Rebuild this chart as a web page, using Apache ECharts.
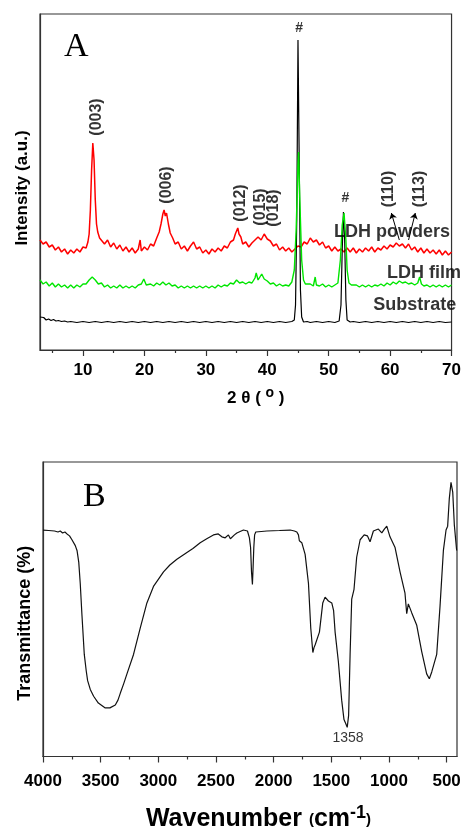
<!DOCTYPE html>
<html><head><meta charset="utf-8">
<script src="https://cdn.jsdelivr.net/npm/echarts@6/dist/echarts.min.js"></script>
<style>html,body{margin:0;padding:0;background:#fff}#c{width:464px;height:833px}</style>
</head><body><div id="c"></div>
<script>
// ---------- Panel A : XRD ----------
const xrdTicks = [10, 20, 30, 40, 50, 60, 70];
const xrdMinor = [5, 15, 25, 35, 45, 55, 65];

const powders = [[3.0,110],[3.5,106],[4.0,108],[4.5,103],[5.0,105],[5.5,100],[6.0,103],[6.5,98],[7.0,101],[7.5,96],[8.0,100],[8.5,97],[9.0,101],[9.5,98],[10.0,103],[10.5,102],[10.8,108],[11.0,116],[11.2,140],[11.4,180],[11.6,207],[11.8,190],[12.0,150],[12.2,126],[12.4,118],[12.7,112],[13.0,114],[13.5,106],[14.0,110],[14.5,103],[15.0,107],[15.5,101],[16.0,105],[16.5,99],[17.0,103],[17.5,98],[18.0,102],[18.5,97],[19.0,101],[19.3,110],[19.5,99],[20.0,103],[20.5,100],[21.0,106],[21.5,104],[22.0,112],[22.4,118],[22.7,126],[23.0,136],[23.2,140],[23.4,134],[23.6,137],[23.9,126],[24.2,117],[24.6,112],[25.0,106],[25.5,108],[26.0,101],[26.5,104],[27.0,99],[27.5,104],[28.0,108],[28.5,101],[29.0,103],[29.5,97],[30.0,100],[30.5,96],[31.0,101],[31.5,98],[32.0,102],[32.5,99],[33.0,104],[33.5,102],[34.0,108],[34.5,110],[34.8,116],[35.0,118],[35.2,122],[35.4,116],[35.7,113],[36.0,106],[36.5,108],[37.0,103],[37.5,107],[38.0,110],[38.5,113],[39.0,110],[39.5,116],[40.0,111],[40.5,109],[41.0,104],[41.5,106],[42.0,100],[42.5,103],[43.0,99],[43.5,102],[44.0,98],[44.5,101],[45.0,104],[45.5,103],[46.0,108],[46.5,106],[47.0,112],[47.5,108],[48.0,110],[48.5,105],[49.0,108],[49.5,102],[50.0,104],[50.5,99],[51.0,103],[51.5,99],[52.0,101],[52.5,98],[53.0,102],[53.5,98],[54.0,102],[54.5,97],[55.0,101],[55.5,98],[56.0,102],[56.5,99],[57.0,103],[57.5,98],[58.0,102],[58.5,100],[59.0,104],[59.5,101],[60.0,105],[60.5,103],[61.0,107],[61.5,104],[62.0,106],[62.5,102],[63.0,106],[63.5,100],[64.0,103],[64.5,98],[65.0,102],[65.5,97],[66.0,101],[66.5,97],[67.0,100],[67.5,96],[68.0,100],[68.5,95],[69.0,99],[69.5,95],[70.0,98]];

const film = [[3.0,70],[3.5,66],[4.0,68],[4.5,64],[5.0,67],[5.5,63],[6.0,66],[6.5,63],[7.0,65],[7.5,62],[8.0,65],[8.5,62],[9.0,65],[9.5,63],[10.0,66],[10.5,66],[11.0,70],[11.5,73],[12.0,70],[12.5,66],[13.0,67],[13.5,63],[14.0,65],[14.5,62],[15.0,64],[15.5,62],[16.0,65],[16.5,62],[17.0,64],[17.5,62],[18.0,64],[18.5,62],[19.0,65],[19.5,66],[19.9,71],[20.3,65],[20.5,64],[21.0,66],[21.5,64],[22.0,67],[22.5,65],[23.0,68],[23.5,65],[24.0,67],[24.5,64],[25.0,65],[25.5,62],[26.0,64],[26.5,62],[27.0,64],[27.5,62],[28.0,64],[28.5,62],[29.0,64],[29.5,62],[30.0,64],[30.5,62],[31.0,64],[31.5,62],[32.0,65],[32.5,63],[33.0,65],[33.5,64],[34.0,67],[34.5,66],[35.0,70],[35.5,67],[36.0,68],[36.5,66],[37.0,68],[37.5,67],[38.0,72],[38.2,77],[38.5,70],[38.8,73],[39.1,76],[39.5,71],[40.0,69],[40.5,66],[41.0,67],[41.5,64],[42.0,66],[42.5,64],[43.0,65],[43.5,64],[44.0,68],[44.4,80],[44.7,120],[45.0,185],[45.1,198],[45.3,150],[45.6,90],[45.9,70],[46.2,66],[46.5,64],[47.0,66],[47.5,64],[47.8,73],[48.0,65],[48.5,64],[49.0,66],[49.5,63],[50.0,65],[50.5,63],[51.0,65],[51.5,67],[51.9,90],[52.2,125],[52.5,137],[52.8,110],[53.0,80],[53.3,67],[53.7,65],[54.0,63],[54.5,65],[55.0,63],[55.5,65],[56.0,63],[56.5,65],[57.0,63],[57.5,65],[58.0,64],[58.5,66],[59.0,64],[59.5,67],[60.0,65],[60.5,68],[61.0,66],[61.5,69],[62.0,67],[62.5,68],[63.0,66],[63.5,67],[64.0,65],[64.5,67],[64.8,73],[65.1,66],[65.5,64],[66.0,65],[66.5,63],[67.0,65],[67.5,63],[68.0,65],[68.5,63],[69.0,65],[69.5,63],[70.0,65]];

const substrate = [[3.0,33],[3.3,31],[3.6,32.5],[4.0,30],[4.4,31],[4.8,29.5],[5.2,30.5],[5.6,29],[6.0,29.5],[6.5,28.5],[7.0,29],[7.5,28],[8,28.5],[9,27.5],[10,28.5],[11,27.5],[12,28.5],[13,27.5],[14,28.5],[15,27.5],[16,28.5],[17,27.5],[18,28.5],[19,27.5],[20,28.5],[21,27.5],[22,28.5],[23,27.5],[24,28.5],[25,27.5],[26,28.5],[27,27.5],[28,28.5],[29,27.5],[30,28.5],[31,27.5],[32,28.5],[33,27.5],[34,28.5],[35,27.5],[36,28.5],[37,27.5],[38,28.5],[39,27.5],[40,28.5],[41,27.5],[42,28.5],[43,27.5],[44,28.5],[44.4,30],[44.6,45],[44.8,130],[45.0,310],[45.2,190],[45.4,60],[45.6,33],[45.9,28],[46.5,28.5],[47,27.5],[48,28.5],[49,27.5],[50,28.5],[51,27.5],[51.7,29],[52.0,45],[52.2,100],[52.4,138],[52.6,110],[52.8,50],[53.0,30],[53.5,28],[54,28.5],[55,27.5],[56,28.5],[57,27.5],[58,28.5],[59,27.5],[60,28.5],[61,27.5],[62,28.5],[63,27.5],[64,28.5],[65,27.5],[66,28.5],[67,27.5],[68,28.5],[69,27.5],[70,28]];

const hklLabels = [[12.2,233,'(003)'],[23.55,165,'(006)'],[35.7,147,'(012)'],[38.9,143,'(015)'],[41.0,142,'(018)'],[59.8,161,'(110)'],[64.8,161,'(113)']];
const peakMarks = [[45.2,322,'#'],[52.7,152,'#']];
const sampleNames = [[60.3,118,'LDH powders'],[65.5,77,'LDH film'],[64.0,45,'Substrate']];
const arrowLines = [[[61.5,110],[60.2,137]],[[63.0,110],[64.1,137]]];

// ---------- Panel B : FTIR ----------
const irTicks = [4000, 3500, 3000, 2500, 2000, 1500, 1000, 500];
const irMinor = [3750, 3250, 2750, 2250, 1750, 1250, 750];
const wavenumber = [4000,3950,3900,3870,3850,3830,3810,3792,3770,3749,3720,3705,3690,3677,3662,3642,3625,3613,3590,3561,3520,3460,3420,3373,3350,3330,3300,3272,3215,3157,3099,3042,2955,2900,2839,2752,2700,2637,2580,2522,2480,2449,2420,2392,2375,2362,2340,2319,2262,2227,2210,2200,2192,2184,2178,2172,2165,2155,2059,1950,1857,1820,1799,1785,1777,1770,1756,1727,1698,1678,1660,1650,1640,1626,1603,1574,1554,1540,1525,1496,1480,1467,1439,1410,1390,1375,1362,1350,1337,1323,1303,1280,1250,1215,1187,1164,1135,1092,1062,1040,1019,991,947,904,861,846,832,803,759,716,673,650,629,586,557,528,505,491,477,462,447,433,413];
const transmittance = [233,232.5,232,231,232,230,231,229,227,223,217,212,200,178,145,105,88,78,69,62,55,50,50,53,58,65,75,85,105,132,158,175,190,197,203,210,214,220,224,228,229,226,225,228,224,223,228,230,233,232,225,215,190,177,195,215,228,231,232,232.5,233,232,231,228,222,224,220,208,178,132,107,112,115,113,128,158,164,162,160,158,150,128,98,58,38,34,30,42,105,162,172,205,223,228,227,221,232,234,230,234,237,226,215,190,168,147,157,148,135,108,85,80,87,105,155,212,233,237,265,282,272,238,212];
const bandLabels = [[1355,19,'1358']];

const irData = wavenumber.map((w, i) => [w, transmittance[i]]);

const axisColor = '#333';
const sans = 'Liberation Sans, Arial, sans-serif';
const serif = 'Liberation Serif, Times New Roman, serif';

function textSeries(xi, yi, data, style, rotate) {
  return {
    type: 'scatter', xAxisIndex: xi, yAxisIndex: yi, symbolSize: 0, silent: true,
    data: data.map(d => ({ value: [d[0], d[1]], name: d[2] })),
    label: Object.assign({ show: true, position: 'inside', rotate: rotate || 0,
      formatter: p => p.name, color: '#000', fontFamily: sans }, style),
    z: 10
  };
}

const chart = echarts.init(document.getElementById('c'), null, { renderer: 'canvas' });
chart.setOption({
  backgroundColor: '#fff',
  animation: false,
  grid: [
    { left: 40, right: 10, top: 14, height: 336, show: true, borderColor: axisColor, borderWidth: 1.2, backgroundColor: 'transparent' },
    { left: 43, right: 7, top: 462, height: 303, show: true, borderColor: axisColor, borderWidth: 1.2, backgroundColor: 'transparent' }
  ],
  xAxis: [
    { type: 'value', gridIndex: 0, min: 3, max: 70,
      axisLine: { lineStyle: { color: axisColor, width: 1.2 } },
      axisTick: { show: true, length: 6, customValues: xrdTicks, lineStyle: { color: axisColor, width: 1.2 } },
      axisLabel: { customValues: xrdTicks, margin: 12, fontSize: 17, fontWeight: 'bold', color: '#000', fontFamily: sans, formatter: v => String(v) },
      splitLine: { show: false },
      name: '2 θ ( {s|o} )', nameLocation: 'middle', nameGap: 36,
      nameTextStyle: { fontSize: 17, fontWeight: 'bold', color: '#000', fontFamily: sans, padding: [0, 0, 0, 20],
        rich: { s: { fontSize: 14, fontWeight: 'bold', fontFamily: sans, padding: [0, 0, 10, 0] } } } },
    { type: 'value', gridIndex: 0, min: 3, max: 70, position: 'bottom',
      axisLine: { show: false }, axisLabel: { show: false }, splitLine: { show: false },
      axisTick: { show: true, length: 3, customValues: xrdMinor, lineStyle: { color: axisColor, width: 1.2 } } },
    { type: 'value', gridIndex: 1, min: 410, max: 4000, inverse: true,
      axisLine: { lineStyle: { color: axisColor, width: 1.2 } },
      axisTick: { show: true, length: 6, customValues: irTicks, lineStyle: { color: axisColor, width: 1.2 } },
      axisLabel: { customValues: irTicks, margin: 16, fontSize: 17, fontWeight: 'bold', color: '#000', fontFamily: sans, formatter: v => String(v) },
      splitLine: { show: false },
      name: 'Wavenumber {p|(}cm{s|-1}{p|)}', nameLocation: 'middle', nameGap: 48,
      nameTextStyle: { fontSize: 25, fontWeight: 'bold', color: '#000', fontFamily: sans, padding: [0, 0, 0, 17],
        rich: { p: { fontSize: 15, fontWeight: 'bold', fontFamily: sans },
                s: { fontSize: 18, fontWeight: 'bold', fontFamily: sans, padding: [0, 0, 12, 0] } } } },
    { type: 'value', gridIndex: 1, min: 410, max: 4000, inverse: true, position: 'bottom',
      axisLine: { show: false }, axisLabel: { show: false }, splitLine: { show: false },
      axisTick: { show: true, length: 3, customValues: irMinor, lineStyle: { color: axisColor, width: 1.2 } } }
  ],
  yAxis: [
    { type: 'value', gridIndex: 0, min: 0, max: 336,
      axisLine: { show: true, lineStyle: { color: axisColor, width: 1.2 } }, axisTick: { show: false },
      axisLabel: { show: false }, splitLine: { show: false },
      name: 'Intensity (a.u.)', nameLocation: 'middle', nameGap: 9,
      nameTextStyle: { fontSize: 17, fontWeight: 'bold', color: '#000', fontFamily: sans, padding: [0, 12, 0, 0] } },
    { type: 'value', gridIndex: 1, min: 0, max: 303,
      axisLine: { show: true, lineStyle: { color: axisColor, width: 1.2 } }, axisTick: { show: false },
      axisLabel: { show: false }, splitLine: { show: false },
      name: 'Transmittance (%)', nameLocation: 'middle', nameGap: 9,
      nameTextStyle: { fontSize: 18, fontWeight: 'bold', color: '#000', fontFamily: sans, padding: [0, 28, 0, 0] } }
  ],
  graphic: [
    { type: 'text', left: 64, top: 30, style: { text: 'A', fontSize: 34, fontFamily: serif, fill: '#000' } },
    { type: 'text', left: 83, top: 480, style: { text: 'B', fontSize: 34, fontFamily: serif, fill: '#000' } }
  ],
  series: [
    { type: 'line', name: 'LDH powders', xAxisIndex: 0, yAxisIndex: 0, data: powders, showSymbol: false,
      lineStyle: { color: '#ff0000', width: 1.5 }, clip: true },
    { type: 'line', name: 'Substrate', xAxisIndex: 0, yAxisIndex: 0, data: substrate, showSymbol: false,
      lineStyle: { color: '#000', width: 1.2 }, clip: true },
    { type: 'line', name: 'LDH film', xAxisIndex: 0, yAxisIndex: 0, data: film, showSymbol: false,
      lineStyle: { color: '#00e600', width: 1.4 }, clip: true },
    Object.assign(textSeries(0, 0, hklLabels, { fontSize: 16, fontWeight: 'bold' }, 90), {
      markLine: { silent: true, symbol: ['none', 'arrow'], symbolSize: 6, label: { show: false },
        lineStyle: { color: '#000', width: 1, type: 'solid' },
        data: arrowLines.map(a => [{ coord: a[0] }, { coord: a[1] }]) } }),
    textSeries(0, 0, peakMarks, { fontSize: 14, fontWeight: 'bold' }),
    textSeries(0, 0, sampleNames, { fontSize: 18, fontWeight: 'bold' }),
    { type: 'line', name: 'FTIR', xAxisIndex: 2, yAxisIndex: 1, data: irData, showSymbol: false,
      lineStyle: { color: '#111', width: 1.2 }, clip: true },
    textSeries(2, 1, bandLabels, { fontSize: 14, fontWeight: 'normal' })
  ]
});
</script></body></html>
